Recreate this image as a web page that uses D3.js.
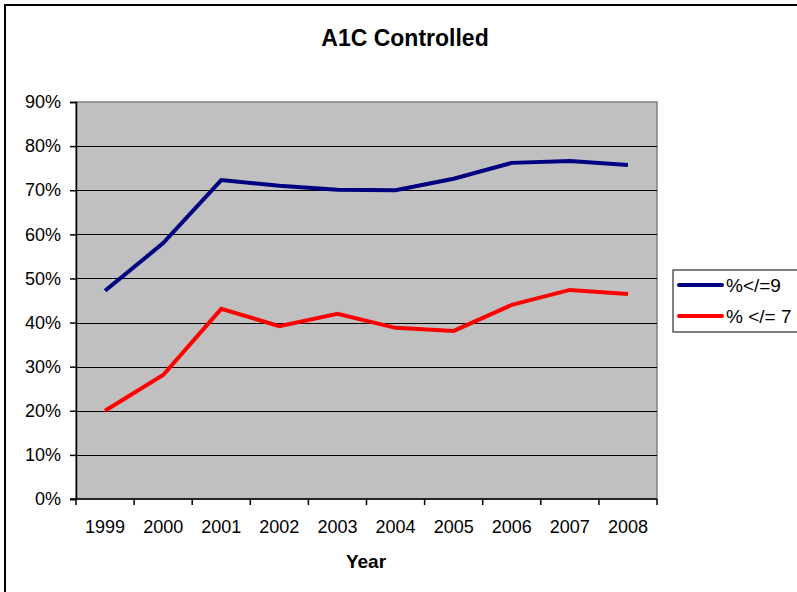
<!DOCTYPE html>
<html>
<head>
<meta charset="utf-8">
<script src="https://cdn.jsdelivr.net/npm/d3@7"></script>
<style>
  html, body { margin: 0; padding: 0; background: #fff; }
  svg { display: block; font-family: Arial, "Liberation Sans", sans-serif; }
</style>
</head>
<body>
<svg id="chart" width="797" height="592"></svg>
<script>
// Share of patients with A1C at or below each threshold, by year
const years = ["1999", "2000", "2001", "2002", "2003", "2004", "2005", "2006", "2007", "2008"];
const pctLe9 = [0.472, 0.580, 0.723, 0.710, 0.701, 0.700, 0.726, 0.762, 0.766, 0.757];
const pctLe7 = [0.200, 0.281, 0.431, 0.392, 0.420, 0.388, 0.381, 0.440, 0.474, 0.465];
const seriesNames = ["%</=9", "% </= 7"];
const seriesColors = ["#000080", "#ff0000"];
const yTicks = [0, 0.1, 0.2, 0.3, 0.4, 0.5, 0.6, 0.7, 0.8, 0.9];

const svg = d3.select("#chart");
const plot = { left: 76, top: 102, right: 657, bottom: 499 };

// Outer chart frame
svg.append("rect")
  .attr("x", 5).attr("y", 5).attr("width", 820).attr("height", 620)
  .attr("fill", "none").attr("stroke", "#000").attr("stroke-width", 2);

// Title
svg.append("text")
  .attr("x", 405).attr("y", 46)
  .attr("text-anchor", "middle")
  .attr("font-size", 23).attr("font-weight", "bold")
  .text("A1C Controlled");

const x = d3.scaleBand().domain(years).range([plot.left, plot.right]);
const y = d3.scaleLinear().domain([0, 0.9]).range([plot.bottom, plot.top]);

// Plot background
svg.append("rect")
  .attr("x", plot.left).attr("y", plot.top)
  .attr("width", plot.right - plot.left).attr("height", plot.bottom - plot.top)
  .attr("fill", "#c0c0c0").attr("stroke", "#808080").attr("stroke-width", 1.5);

// Horizontal gridlines
svg.append("g").selectAll("line")
  .data(yTicks.filter(d => d > 0 && d < 0.9))
  .join("line")
  .attr("x1", plot.left).attr("x2", plot.right)
  .attr("y1", d => Math.round(y(d)) + 0.5).attr("y2", d => Math.round(y(d)) + 0.5)
  .attr("stroke", "#000").attr("stroke-width", 1);

// Y axis
const yAxis = svg.append("g")
  .attr("transform", `translate(${plot.left},0)`)
  .call(d3.axisLeft(y).tickValues(yTicks).tickFormat(d3.format(".0%")).tickSize(6).tickPadding(9));
yAxis.selectAll("text").attr("font-size", 18).attr("fill", "#000").attr("font-family", "Arial, 'Liberation Sans', sans-serif");
yAxis.selectAll("line, path").attr("stroke", "#000").attr("stroke-width", 1.5);

// X axis: ticks at category boundaries, labels centred in each band
const edges = years.map(d => x(d)).concat([plot.right]);
const xg = svg.append("g");
xg.append("line")
  .attr("x1", plot.left - 6).attr("x2", plot.right)
  .attr("y1", plot.bottom).attr("y2", plot.bottom)
  .attr("stroke", "#000").attr("stroke-width", 1.5);
xg.selectAll("line.tick").data(edges).join("line")
  .attr("class", "tick")
  .attr("x1", d => d).attr("x2", d => d)
  .attr("y1", plot.bottom).attr("y2", plot.bottom + 6)
  .attr("stroke", "#000").attr("stroke-width", 1.5);
xg.selectAll("text").data(years).join("text")
  .attr("x", d => x(d) + x.bandwidth() / 2)
  .attr("y", 533)
  .attr("text-anchor", "middle")
  .attr("font-size", 18)
  .text(d => d);

// X axis title
svg.append("text")
  .attr("x", 366).attr("y", 568)
  .attr("text-anchor", "middle")
  .attr("font-size", 19).attr("font-weight", "bold")
  .text("Year");

// Series lines
const line = d3.line()
  .x((d, i) => x(years[i]) + x.bandwidth() / 2)
  .y(d => y(d));
[pctLe9, pctLe7].forEach((vals, i) => {
  svg.append("path")
    .datum(vals)
    .attr("d", line)
    .attr("fill", "none")
    .attr("stroke", seriesColors[i])
    .attr("stroke-width", 4)
    .attr("stroke-linejoin", "miter");
});

// Legend
const lg = svg.append("g");
lg.append("rect")
  .attr("x", 673).attr("y", 270).attr("width", 140).attr("height", 62)
  .attr("fill", "#fff").attr("stroke", "#000").attr("stroke-width", 1);
seriesNames.forEach((name, i) => {
  const cy = 285 + i * 31;
  lg.append("line")
    .attr("x1", 679).attr("x2", 722).attr("y1", cy).attr("y2", cy)
    .attr("stroke", seriesColors[i]).attr("stroke-width", 4).attr("stroke-linecap", "round");
  lg.append("text")
    .attr("x", 726).attr("y", cy + 7)
    .attr("font-size", 19)
    .attr("xml:space", "preserve")
    .style("white-space", "pre")
    .text(name);
});
</script>
</body>
</html>
